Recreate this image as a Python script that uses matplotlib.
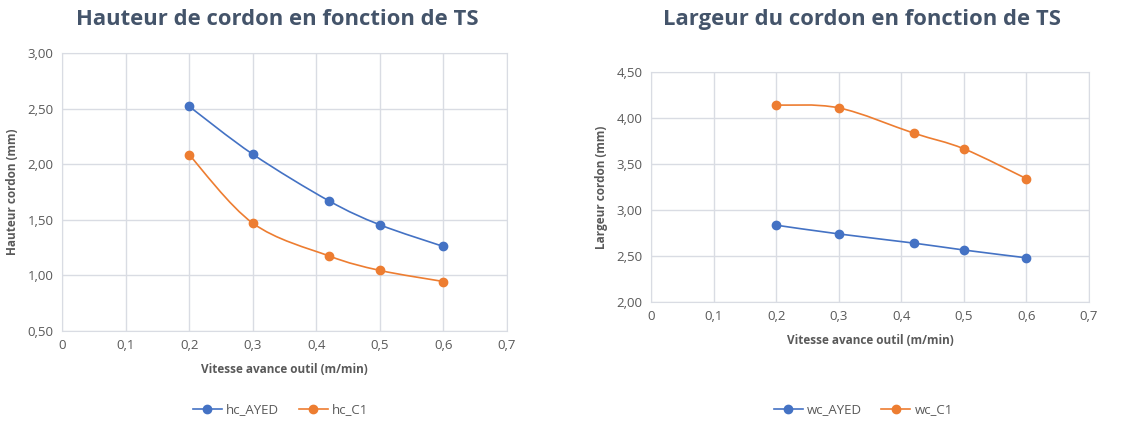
import numpy as np
import matplotlib.pyplot as plt
from matplotlib.path import Path
from matplotlib.patches import PathPatch
from matplotlib.lines import Line2D
from matplotlib.ticker import FuncFormatter

plt.rcParams["font.family"] = ["Open Sans", "DejaVu Sans"]

# data
vitesse = [0.2, 0.3, 0.42, 0.5, 0.6]
hc_ayed = [2.52, 2.09, 1.67, 1.455, 1.26]
hc_c1 = [2.085, 1.47, 1.175, 1.045, 0.945]
wc_ayed = [2.835, 2.74, 2.64, 2.565, 2.48]
wc_c1 = [4.14, 4.11, 3.835, 3.665, 3.34]

BLUE = "#4472C4"
ORANGE = "#ED7D31"
TXT = "#595959"
TITLE = "#44546A"
GRID = "#D9DCE3"


def smooth_path(x, y):
    """Excel-like smoothed line as cubic Bezier segments."""
    pts = np.column_stack([x, y])
    ext = np.vstack([pts[0], pts, pts[-1]])
    verts = [tuple(pts[0])]
    codes = [Path.MOVETO]
    for i in range(len(pts) - 1):
        p0, p1, p2, p3 = ext[i], ext[i + 1], ext[i + 2], ext[i + 3]
        c1 = p1 + (p2 - p0) / 6
        c2 = p2 - (p3 - p1) / 6
        verts += [tuple(c1), tuple(c2), tuple(p2)]
        codes += [Path.CURVE4] * 3
    return Path(verts, codes)


def draw_series(ax, x, y, color):
    ax.add_patch(PathPatch(smooth_path(x, y), fill=False, edgecolor=color,
                           lw=1.2, zorder=3))
    ax.plot(x, y, ls="none", marker="o", ms=6, color=color, zorder=4)


comma = FuncFormatter(lambda v, p: f"{v:.2f}".replace(".", ","))
comma_x = FuncFormatter(lambda v, p: "0" if abs(v) < 1e-9 else f"{v:.1f}".replace(".", ","))


def style(ax, ylim, ystep, ylabel):
    ax.set_xlim(0, 0.7)
    ax.set_xticks(np.arange(0, 0.71, 0.1))
    ax.set_ylim(*ylim)
    ax.set_yticks(np.arange(ylim[0], ylim[1] + 1e-9, ystep))
    ax.xaxis.set_major_formatter(comma_x)
    ax.yaxis.set_major_formatter(comma)
    ax.grid(True, color=GRID, lw=1)
    ax.set_axisbelow(True)
    for s in ax.spines.values():
        s.set_color(GRID)
    ax.tick_params(length=0, colors=TXT, labelsize=9.5, pad=6)
    ax.set_xlabel("Vitesse avance outil (m/min)", fontsize=8.5,
                  fontweight="bold", color=TXT, labelpad=8)
    ax.set_ylabel(ylabel, fontsize=8.5, fontweight="bold", color=TXT, labelpad=6)


fig = plt.figure(figsize=(11.21, 4.28), dpi=100)

ax1 = fig.add_axes([0.0553, 0.2266, 0.397, 0.6496])
draw_series(ax1, vitesse, hc_ayed, BLUE)
draw_series(ax1, vitesse, hc_c1, ORANGE)
style(ax1, (0.5, 3.0), 0.5, "Hauteur cordon (mm)")
fig.text(0.247, 0.955, "Hauteur de cordon en fonction de TS", ha="center",
         va="center", fontsize=15.8, fontweight="bold", color=TITLE)

ax2 = fig.add_axes([0.5807, 0.2944, 0.3908, 0.5374])
draw_series(ax2, vitesse, wc_ayed, BLUE)
draw_series(ax2, vitesse, wc_c1, ORANGE)
style(ax2, (2.0, 4.5), 0.5, "Largeur cordon (mm)")
fig.text(0.769, 0.955, "Largeur du cordon en fonction de TS", ha="center",
         va="center", fontsize=15.8, fontweight="bold", color=TITLE)


def handles(names):
    return [Line2D([], [], color=c, marker="o", ms=6, lw=1.2, label=n)
            for c, n in zip([BLUE, ORANGE], names)]


for cx, names in [(0.25, ["hc_AYED", "hc_C1"]), (0.77, ["wc_AYED", "wc_C1"])]:
    fig.legend(handles=handles(names), loc="center", bbox_to_anchor=(cx, 0.042),
               ncol=2, frameon=False, fontsize=9.5, labelcolor=TXT,
               handlelength=2.2, columnspacing=1.5, handletextpad=0.3)

fig.savefig("out.png", dpi=100)
